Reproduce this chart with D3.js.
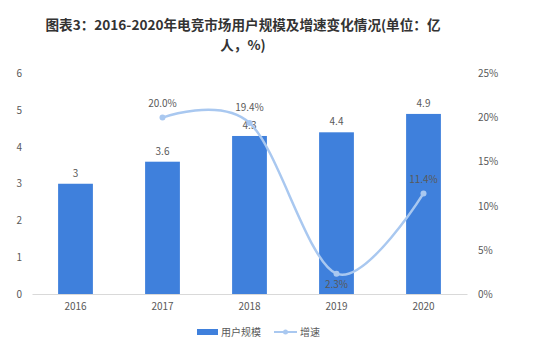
<!DOCTYPE html>
<html><head><meta charset="utf-8">
<script src="https://cdn.jsdelivr.net/npm/d3@7/dist/d3.min.js"></script>
<style>body{margin:0;background:#fff;}svg{display:block;}</style>
</head><body>
<script>
const years = ["2016","2017","2018","2019","2020"];
const users = [3, 3.6, 4.3, 4.4, 4.9];
const growth = [null, 20.0, 19.4, 2.3, 11.4];
const leftTicks = [0,1,2,3,4,5,6];
const rightTicks = [0,5,10,15,20,25];
const titleLines = ["图表3：2016-2020年电竞市场用户规模及增速变化情况(单位：亿", "人，%)"];
const legendLabels = ["用户规模","增速"];

const W=554,H=357;
const font = "'Noto Sans CJK SC','Noto Sans',sans-serif";
const svg = d3.select("body").append("svg").attr("width",W).attr("height",H);
const x = d3.scaleBand().domain(years).range([32,467]).paddingInner(0.6).paddingOuter(0.3);
const yL = d3.scaleLinear().domain([0,6]).range([294,73.5]);
const yR = d3.scaleLinear().domain([0,25]).range([294,73.5]);
const textCol = "#595959";

// title
svg.append("g").selectAll("text").data(titleLines).join("text")
  .attr("x",243).attr("y",(d,i)=>30+i*20).attr("text-anchor","middle")
  .attr("font-family",font).attr("font-weight","bold").attr("font-size",13.6).attr("fill","#333")
  .text(d=>d);

// axes
const axL = svg.append("g").attr("transform","translate(32,0)")
  .call(d3.axisLeft(yL).tickValues(leftTicks).tickSize(0).tickPadding(10).tickFormat(d3.format("d")));
const axR = svg.append("g").attr("transform","translate(467,0)")
  .call(d3.axisRight(yR).tickValues(rightTicks).tickSize(0).tickPadding(11).tickFormat(d=>d+"%"));
const axB = svg.append("g").attr("transform","translate(0,294)")
  .call(d3.axisBottom(x).tickSize(0).tickPadding(9));
[axL,axR].forEach(a=>a.select(".domain").remove());
axB.select(".domain").attr("stroke","#d9d9d9");
svg.selectAll(".tick text").attr("font-family",font).attr("font-size",10).attr("fill",textCol);

// bars
svg.append("g").selectAll("rect").data(users).join("rect")
  .attr("x",(d,i)=>x(years[i])).attr("width",x.bandwidth())
  .attr("y",d=>yL(d)).attr("height",d=>yL(0)-yL(d)).attr("fill","#3f80dc");
svg.append("g").selectAll("text").data(users).join("text")
  .attr("x",(d,i)=>x(years[i])+x.bandwidth()/2).attr("y",d=>yL(d)-7)
  .attr("text-anchor","middle").attr("font-family",font).attr("font-size",10).attr("fill",textCol)
  .text(d=>d);

// line
const pts = growth.map((g,i)=>({g,i})).filter(d=>d.g!=null);
const cx = d=>x(years[d.i])+x.bandwidth()/2;
const line = d3.line().x(cx).y(d=>yR(d.g)).curve(d3.curveCardinal.tension(0));
svg.append("path").datum(pts).attr("d",line).attr("fill","none")
  .attr("stroke","#a9c8f0").attr("stroke-width",2.5);
svg.append("g").selectAll("circle").data(pts).join("circle")
  .attr("cx",cx).attr("cy",d=>yR(d.g)).attr("r",3).attr("fill","#a9c8f0");
const offs = {1:-11,2:-12,3:14,4:-10};
svg.append("g").selectAll("text").data(pts).join("text")
  .attr("x",cx).attr("y",d=>yR(d.g)+offs[d.i]).attr("text-anchor","middle")
  .attr("font-family",font).attr("font-size",10).attr("fill",textCol)
  .text(d=>d.g.toFixed(1)+"%");

// legend
const lg = svg.append("g");
lg.append("rect").attr("x",197).attr("y",329).attr("width",21).attr("height",6).attr("fill","#3f80dc");
lg.append("text").attr("x",221).attr("y",336).attr("font-family",font).attr("font-size",10).attr("fill",textCol).text(legendLabels[0]);
lg.append("line").attr("x1",274).attr("x2",297).attr("y1",332).attr("y2",332).attr("stroke","#a9c8f0").attr("stroke-width",2);
lg.append("circle").attr("cx",285.5).attr("cy",332).attr("r",2.5).attr("fill","#a9c8f0");
lg.append("text").attr("x",300).attr("y",336).attr("font-family",font).attr("font-size",10).attr("fill",textCol).text(legendLabels[1]);
</script>
</body></html>
